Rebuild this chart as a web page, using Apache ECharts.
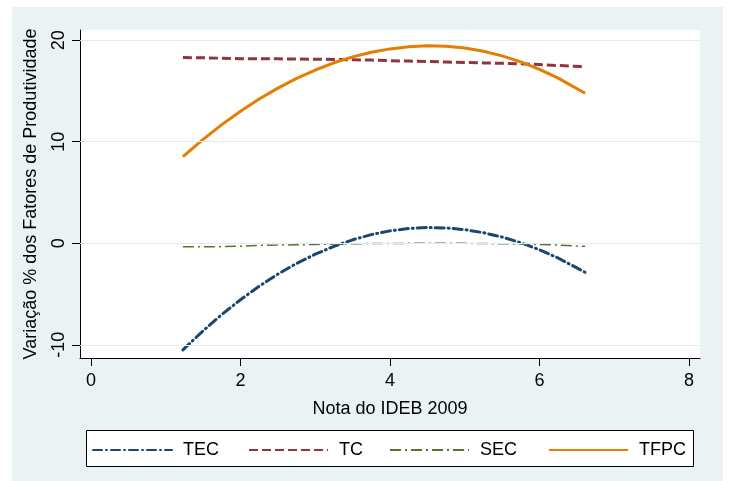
<!DOCTYPE html>
<html>
<head>
<meta charset="utf-8">
<script src="https://cdn.jsdelivr.net/npm/echarts@6/dist/echarts.min.js"></script>
<style>html,body{margin:0;padding:0;background:#fff}#c{width:730px;height:481px}</style>
</head>
<body>
<div id="c"></div>
<script>
// Data
const xValues = [1.23, 1.5, 1.75, 2.0, 2.25, 2.5, 2.75, 3.0, 3.25, 3.5, 3.75, 4.0, 4.25, 4.5, 4.75, 5.0, 5.25, 5.5, 5.75, 6.0, 6.25, 6.61];
const tecValues = [-10.5, -8.62, -7.02, -5.56, -4.23, -3.04, -1.99, -1.08, -0.30, 0.34, 0.85, 1.22, 1.45, 1.55, 1.51, 1.34, 1.04, 0.61, 0.05, -0.64, -1.46, -2.86];
const tcValues = [18.28, 18.27, 18.22, 18.18, 18.17, 18.16, 18.14, 18.12, 18.10, 18.07, 18.04, 17.98, 17.94, 17.90, 17.85, 17.80, 17.76, 17.72, 17.67, 17.60, 17.50, 17.39];
const secValues = [-0.35, -0.35, -0.33, -0.30, -0.20, -0.18, -0.15, -0.12, -0.08, -0.05, -0.03, -0.02, -0.01, 0, 0, -0.01, -0.03, -0.05, -0.08, -0.12, -0.18, -0.30];
const tfpcValues = [8.53, 10.23, 11.68, 13.00, 14.20, 15.28, 16.23, 17.06, 17.77, 18.35, 18.81, 19.14, 19.35, 19.44, 19.40, 19.22, 18.90, 18.45, 17.86, 17.13, 16.26, 14.77];
const seriesNames = ['TEC', 'TC', 'SEC', 'TFPC'];
const xTicks = [0, 2, 4, 6, 8];
const yTicks = [-10, 0, 10, 20];
const xTitle = 'Nota do IDEB 2009';
const yTitle = 'Variação % dos Fatores de Produtividade';

const pair = v => xValues.map((x, i) => [x, v[i]]);
const FONT = 'Liberation Sans, Arial, sans-serif';
const chart = echarts.init(document.getElementById('c'), null, {renderer: 'canvas'});

const legendLefts = [92, 248, 389, 548];
const legends = seriesNames.map((n, i) => ({
  data: [n], left: legendLefts[i], top: 441, padding: 0,
  itemWidth: 79, itemHeight: 14,
  itemStyle: {opacity: 0, borderWidth: 0},
  textStyle: {fontSize: 18, fontFamily: FONT, color: '#000', padding: [0, 0, 0, 6]},
  selectedMode: false
}));

chart.setOption({
  animation: false,
  backgroundColor: '#fff',
  graphic: [
    {type: 'rect', z: -100, shape: {x: 12, y: 7, width: 711, height: 474}, style: {fill: '#eaf2f3'}, silent: true},
    {type: 'rect', z: -50, shape: {x: 86.5, y: 430.5, width: 607, height: 36}, style: {fill: '#fff', stroke: '#000', lineWidth: 1}, silent: true}
  ],
  grid: {left: 80, right: 30, top: 30, bottom: 123, show: true, backgroundColor: '#fff', borderWidth: 0},
  legend: legends,
  xAxis: {
    type: 'value', min: -0.147, max: 8.147,
    name: xTitle, nameLocation: 'middle', nameGap: 42,
    nameTextStyle: {fontSize: 18, fontFamily: FONT, color: '#000'},
    axisLine: {show: true, onZero: false, lineStyle: {color: '#000', width: 1}},
    axisTick: {show: true, length: 8, customValues: xTicks, lineStyle: {color: '#000'}},
    axisLabel: {customValues: xTicks, fontSize: 18, fontFamily: FONT, color: '#000', margin: 14},
    splitLine: {show: false}
  },
  yAxis: {
    type: 'value', min: -11.3, max: 21.0,
    name: yTitle, nameLocation: 'middle', nameGap: 40,
    nameTextStyle: {fontSize: 18, fontFamily: FONT, color: '#000'},
    axisLine: {show: true, onZero: false, lineStyle: {color: '#000', width: 1}},
    axisTick: {show: true, length: 8, customValues: yTicks, lineStyle: {color: '#000'}},
    axisLabel: {customValues: yTicks, rotate: 90, fontSize: 18, fontFamily: FONT, color: '#000', margin: 12},
    splitLine: {show: false}
  },
  series: [
    {
      name: 'grid', type: 'line', data: [], z: 1, silent: true,
      markLine: {
        silent: true, symbol: ['none', 'none'], label: {show: false},
        lineStyle: {color: '#e3ecef', width: 1, type: 'solid'},
        data: yTicks.map(v => ({yAxis: v}))
      }
    },
    {name: 'TEC', type: 'line', data: pair(tecValues), z: 3, showSymbol: false, symbol: 'none',
      itemStyle: {color: '#1a476f'},
      lineStyle: {color: '#1a476f', width: 3, type: [9, 4, 1, 4], cap: 'round'}},
    {name: 'TC', type: 'line', data: pair(tcValues), z: 3, showSymbol: false, symbol: 'none',
      itemStyle: {color: '#90353b'},
      lineStyle: {color: '#90353b', width: 3, type: [9, 4]}},
    {name: 'SEC', type: 'line', data: pair(secValues), z: 3, showSymbol: false, symbol: 'none',
      itemStyle: {color: '#55752f'},
      lineStyle: {color: '#55752f', width: 1.5, type: [11, 4, 2, 4]}},
    {name: 'TFPC', type: 'line', data: pair(tfpcValues), z: 4, showSymbol: false, symbol: 'none',
      itemStyle: {color: '#e37e00'},
      lineStyle: {color: '#e37e00', width: 3}}
  ]
});
</script>
</body>
</html>
